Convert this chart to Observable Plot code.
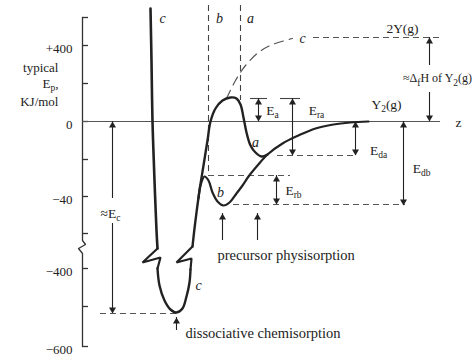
<!DOCTYPE html>
<html><head><meta charset="utf-8">
<script src="https://cdn.jsdelivr.net/npm/d3@7"></script>
<script src="https://cdn.jsdelivr.net/npm/@observablehq/plot@0.6"></script>
<style>
html,body{margin:0;padding:0;background:#fff;}
#chart svg{display:block;overflow:visible;}
</style></head><body><div id="chart"></div>
<script>
// Coordinates: z = distance from surface (schematic units), e = schematic energy units
const axisLine = [[0,104],[0,-119],[3,-123],[-4,-127],[0,-132],[0,-225]];
const tickE = [104, 76, 38, 0, -38, -75, -112, -147, -185, -225];
const tickLabels = [
  {e: 76, t: "+400"}, {e: 0, t: "0"}, {e: -75, t: "\u221240"},
  {e: -147, t: "\u2212400"}, {e: -225, t: "\u2212600"}
];
const axisTitle = [{e: 54, t: "typical"}, {e: 38, t: "E_{p},"}, {e: 20, t: "KJ/mol"}];

// curve c (dissociative chemisorption)
const cTop  = [[68,113],[69,61],[70,0],[72,-59],[74,-109],[75,-127]];
const cZigL = [[75,-127],[60,-141],[78,-136],[75,-147]];
const cWell = [[75,-147],[77,-164],[82,-179],[88,-188],[94,-191],[100,-187],[104,-175],[107,-161],[108,-148]];
const cZigR = [[108,-148],[109,-137],[94,-141],[110,-125]];
// curve a (activated adsorption)
const aCurve = [[110,-125],[112,-107],[114,-91],[117,-69],[121,-44],[125,-19],[128,0],[133,13],[140,21],[148,24],[154,23],[158,17],[161,4],[164,-11],[168,-24],[173,-31],[179,-35],[185,-33]];
// curve b (precursor physisorption)
const bCurve = [[116,-77],[118,-64],[122,-55],[126,-59],[130,-71],[135,-80],[141,-84],[147,-81],[154,-72],[160,-64],[166,-55],[175,-44],[185,-33],[200,-22],[216,-14],[233,-7],[251,-3],[268,-1],[286,0]];
// dashed curve c to 2Y(g)
const cDash = [[144,23],[153,41],[163,56],[176,69],[190,77],[210,83]];

const dashH = [
  {e: -192, z1: 18, z2: 94},
  {e: -83, z1: 151, z2: 323},
  {e: -54, z1: 126, z2: 208},
  {e: -34, z1: 195, z2: 275},
  {e: 84, z1: 231, z2: 361}
];
const solidH = [{e: 23, z1: 168, z2: 185}, {e: 23, z1: 198, z2: 218}];
const dashV = [{z: 126, e1: 116, e2: -54}, {z: 158, e1: 116, e2: 21}];

// double-headed arrows (z, low end, high end)
const dblArrows = [
  {z: 176, lo: 0, hi: 23},
  {z: 210, lo: -34, hi: 23},
  {z: 194, lo: -83, hi: -54},
  {z: 273, lo: -34, hi: 0},
  {z: 321, lo: -84, hi: 0}
];
// single arrows (tail -> head)
const oneArrows = [
  {z: 30, from: -77, to: 0}, {z: 30, from: -102, to: -192},
  {z: 347, from: 56, to: 84}, {z: 347, from: 29, to: 0},
  {z: 140, from: -119, to: -92}, {z: 175, from: -119, to: -92},
  {z: 94, from: -209, to: -196}
];

const labels = [
  {z: 190, e: 11, t: "E_{a}"}, {z: 234, e: 11, t: "E_{ra}"},
  {z: 296, e: -29, t: "E_{da}"}, {z: 339, e: -47, t: "E_{db}"},
  {z: 211, e: -69, t: "E_{rb}"}, {z: 28, e: -92, t: "\u2248E_{c}"},
  {z: 304, e: 17, t: "Y_{2}(g)"}, {z: 320, e: 93, t: "2Y(g)"},
  {z: 376, e: -1, t: "z"}
];
const dhLabel = [{z: 355, e: 43, t: "\u2248\u0394_{f}H of Y_{2}(g)"}];
const italicLabels = [
  {z: 80, e: 103, t: "c"}, {z: 137, e: 103, t: "b"}, {z: 168, e: 103, t: "a"},
  {z: 173, e: -21, t: "a"}, {z: 138, e: -71, t: "b"}, {z: 116, e: -164, t: "c"},
  {z: 220, e: 83, t: "c"}
];
const notes = [
  {z: 135, e: -134, t: "precursor physisorption"},
  {z: 103, e: -212, t: "dissociative chemisorption"}
];

const ink = "#222";
const font = "Liberation Serif";
const px = d => d[0], py = d => d[1];

// arrowheads derived from the arrow lists
const headsUp = [], headsDown = [];
dblArrows.forEach(d => { headsUp.push({z: d.z, e: d.hi}); headsDown.push({z: d.z, e: d.lo}); });
oneArrows.forEach(d => (d.to > d.from ? headsUp : headsDown).push({z: d.z, e: d.to}));
const shafts = dblArrows.map(d => ({z: d.z, e1: d.lo, e2: d.hi}))
  .concat(oneArrows.map(d => ({z: d.z, e1: d.from, e2: d.to})));

const svg = Plot.plot({
  width: 476, height: 356, margin: 0,
  x: {domain: [-82, 394], axis: null},
  y: {domain: [-235, 121], axis: null},
  style: {fontFamily: font, fontSize: "13px", background: "white", overflow: "visible"},
  marks: [
    // axis
    Plot.line(axisLine, {x: px, y: py, stroke: "#333", strokeWidth: 1.3}),
    Plot.ruleY(tickE, {y: d => d, x1: 0, x2: 6, stroke: "#333", strokeWidth: 1.3}),
    Plot.text(tickLabels, {x: -10, y: "e", text: "t", textAnchor: "end", dy: 3, fill: ink, fontSize: 13}),
    Plot.text(axisTitle, {x: -24, y: "e", text: "t", textAnchor: "end", fill: ink, fontSize: 13}),
    // zero line
    Plot.ruleY([0], {x1: 0, x2: 358, stroke: "#555", strokeWidth: 1.2}),
    // dashed guides
    Plot.ruleY(dashH, {y: "e", x1: "z1", x2: "z2", stroke: "#555", strokeWidth: 1.1, strokeDasharray: "6,4"}),
    Plot.ruleX(dashV, {x: "z", y1: "e1", y2: "e2", stroke: "#444", strokeWidth: 1.1, strokeDasharray: "6,4"}),
    Plot.ruleY(solidH, {y: "e", x1: "z1", x2: "z2", stroke: "#444", strokeWidth: 1.1}),
    Plot.line(cDash, {x: px, y: py, curve: "catmull-rom", stroke: "#555", strokeWidth: 1.2, strokeDasharray: "9,6"}),
    // curves
    Plot.line(cTop, {x: px, y: py, curve: "catmull-rom", stroke: ink, strokeWidth: 2.6}),
    Plot.line(cZigL, {x: px, y: py, stroke: ink, strokeWidth: 2.2, strokeLinejoin: "miter"}),
    Plot.line(cWell, {x: px, y: py, curve: "catmull-rom", stroke: ink, strokeWidth: 2.4}),
    Plot.line(cZigR, {x: px, y: py, stroke: ink, strokeWidth: 2.2, strokeLinejoin: "miter"}),
    Plot.line(aCurve, {x: px, y: py, curve: "catmull-rom", stroke: ink, strokeWidth: 2.4}),
    Plot.line(bCurve, {x: px, y: py, curve: "catmull-rom", stroke: ink, strokeWidth: 2.2}),
    // arrows: shafts + filled heads
    Plot.ruleX(shafts, {x: "z", y1: "e1", y2: "e2", stroke: ink, strokeWidth: 1.1}),
    Plot.dot(headsUp, {x: "z", y: "e", symbol: "triangle", r: 2.6, fill: ink, stroke: "none", dy: 4}),
    Plot.dot(headsDown, {x: "z", y: "e", symbol: "triangle", r: 2.6, fill: ink, stroke: "none", dy: -4, rotate: 180}),
    // text
    Plot.text(labels, {x: "z", y: "e", text: "t", fill: ink, fontSize: 13.5}),
    Plot.text(dhLabel, {x: "z", y: "e", text: "t", fill: ink, fontSize: 12}),
    Plot.text(italicLabels, {x: "z", y: "e", text: "t", fill: ink, fontSize: 14, fontStyle: "italic"}),
    Plot.text(notes, {x: "z", y: "e", text: "t", textAnchor: "start", fill: ink, fontSize: 14.5})
  ]
});
document.getElementById("chart").append(svg);

// render "_{...}" as subscripts
d3.select(svg).selectAll("text").each(function () {
  const t = this.textContent;
  if (!t.includes("_{")) return;
  const sel = d3.select(this);
  sel.text("");
  const parts = t.split(/(_\{[^}]*\})/).filter(p => p.length);
  let lowered = false;
  parts.forEach(p => {
    if (p.startsWith("_{")) {
      sel.append("tspan").attr("dy", lowered ? 0 : 3.5).attr("font-size", 9.5).text(p.slice(2, -1));
      lowered = true;
    } else {
      sel.append("tspan").attr("dy", lowered ? -3.5 : 0).text(p);
      lowered = false;
    }
  });
});
</script></body></html>
